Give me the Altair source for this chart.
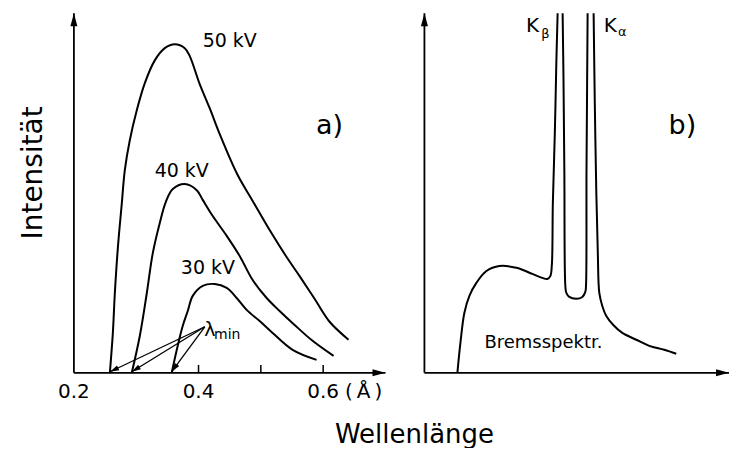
import math
import altair as alt
import pandas as pd

FONT = "DejaVu Sans"
INK = "black"

# ---------------- panel a) : wavelength in Å, intensity in arbitrary units (axis top = 100)
wl_50 = [0.2577, 0.2625, 0.2657, 0.2705, 0.2769, 0.2817, 0.2897, 0.3010, 0.3138, 0.3298, 0.3458,
         0.3619, 0.3779, 0.3859, 0.4019, 0.4179, 0.4340, 0.4628, 0.4869, 0.5141, 0.5413, 0.5622,
         0.5862, 0.6103, 0.6407]
int_50 = [0, 11.1, 22.2, 34.7, 47.2, 56.4, 64.7, 73.1, 80.6, 86.9, 90.3,
          91.4, 90.3, 88.1, 80.3, 73.6, 66.4, 55.0, 47.8, 39.7, 32.2, 26.9,
          20.6, 14.2, 9.2]

wl_40 = [0.2929, 0.3058, 0.3170, 0.3266, 0.3378, 0.3474, 0.3587, 0.3779, 0.3971, 0.4067, 0.4228,
         0.4452, 0.4660, 0.4869, 0.5093, 0.5301, 0.5542, 0.5830, 0.6167]
int_40 = [0, 10.3, 22.2, 33.3, 41.7, 47.5, 51.1, 52.5, 50.8, 48.1, 43.6,
          38.1, 32.5, 25.8, 20.8, 17.2, 13.3, 8.9, 4.7]

wl_30 = [0.3570, 0.3651, 0.3747, 0.3827, 0.3907, 0.4067, 0.4260, 0.4452, 0.4612, 0.4772, 0.4981,
         0.5189, 0.5510, 0.5894]
int_30 = [0, 6.4, 13.1, 17.2, 21.4, 24.2, 24.7, 23.6, 20.8, 17.5, 14.4, 11.1, 6.4, 3.6]

kv_names = ["50 kV", "40 kV", "30 kV"]
kv_label_wl = [0.450, 0.373, 0.415]
kv_label_int = [92.2, 56.1, 29.2]

lambda_min_wl = [0.258, 0.293, 0.357]      # short-wavelength limits of the three spectra
lambda_label = (0.410, 12.8)               # where the λmin arrows start

tick_values = [0.4, 0.5, 0.6]
tick_label_values = [0.2, 0.4, 0.6]
tick_labels = ["0.2", "0.4", "0.6"]

# ---------------- panel b) : arbitrary wavelength units
b_seg1_x = [0.1061, 0.1158, 0.1286, 0.1447, 0.1672, 0.1994, 0.2412, 0.2958, 0.3473, 0.3794,
            0.3955, 0.4051, 0.4100, 0.4132, 0.4196, 0.4244, 0.4286]
b_seg1_y = [0, 8.3, 16.7, 21.4, 25.0, 28.3, 29.7, 29.2, 27.5, 26.4,
            26.1, 26.9, 30.0, 47.2, 66.7, 86.1, 100]
b_seg2_x = [0.4447, 0.4476, 0.4502, 0.4534, 0.4566, 0.4662, 0.4887, 0.5080, 0.5177, 0.5199,
            0.5215, 0.5235, 0.5251]
b_seg2_y = [100, 80.6, 56.4, 24.2, 22.2, 21.1, 20.6, 21.1, 22.5, 24.2, 56.4, 80.6, 100]
b_seg3_x = [0.5444, 0.5482, 0.5531, 0.5579, 0.5627, 0.5723, 0.5852, 0.6077, 0.6367, 0.6817,
            0.7235, 0.7717, 0.8103]
b_seg3_y = [100, 75, 50, 33.3, 22.2, 18.6, 15.8, 13.3, 11.1, 9.2, 7.5, 6.4, 5.3]

# ---------------- geometry
WA, WB, H = 312, 305, 360
XA = [0.2, 0.7]
XB = [0.0, 0.98]
YD = [0, 100]

sxa = alt.Scale(domain=XA, nice=False, zero=False)
sxb = alt.Scale(domain=XB, nice=False, zero=False)
sy = alt.Scale(domain=YD, nice=False, zero=False)


def enc(sx, x="x", y="y", x2=None, y2=None):
    e = dict(x=alt.X(f"{x}:Q", scale=sx, axis=None), y=alt.Y(f"{y}:Q", scale=sy, axis=None))
    if x2:
        e["x2"] = alt.X2(f"{x2}:Q")
    if y2:
        e["y2"] = alt.Y2(f"{y2}:Q")
    return e


def tip_path(dx, dy, w):
    """Arrowhead outline with its tip at the anchor, pointing along screen direction (dx, dy)."""
    n = math.hypot(dx, dy)
    ux, uy = dx / n, dy / n
    px, py = -uy, ux
    bx, by = -ux, -uy
    pts = [(0, 0), (bx + px * w, by + py * w), (bx - px * w, by - py * w)]
    return "M" + "L".join(f"{a:.3f},{b:.3f}" for a, b in pts) + "Z"


def head_layer(df, sx, size):
    return alt.Chart(df).mark_point(filled=True, size=size, color=INK, opacity=1, strokeWidth=0).encode(
        **enc(sx), shape=alt.Shape("path:N", scale=None))


def axes_layers(sx, xd):
    ax = pd.DataFrame({"x": [xd[0], xd[0]], "x2": [xd[0], xd[1]], "y": [0, 0], "y2": [YD[1], 0]})
    rules = alt.Chart(ax).mark_rule(color=INK, strokeWidth=1.8).encode(**enc(sx, x2="x2", y2="y2"))
    heads = pd.DataFrame({"x": [xd[0], xd[1]], "y": [YD[1], 0],
                          "path": [tip_path(0, -1, 0.27), tip_path(1, 0, 0.27)]})
    return [rules, head_layer(heads, sx, 676)]


def curves_df(xs_list, ys_list, names):
    rows = []
    for xs, ys, n in zip(xs_list, ys_list, names):
        for i, (a, b) in enumerate(zip(xs, ys)):
            rows.append({"x": a, "y": b, "g": n, "i": i})
    return pd.DataFrame(rows)


def text_layer(df, sx, baseline="middle"):
    return alt.Chart(df).mark_text(font=FONT, color=INK, baseline=baseline, align="center").encode(
        **enc(sx), text="t:N", size=alt.Size("fs:Q", scale=None), angle=alt.Angle("ang:Q", scale=None))


# ---- panel a
cur_a = curves_df([wl_50, wl_40, wl_30], [int_50, int_40, int_30], kv_names)
lines_a = alt.Chart(cur_a).mark_line(color=INK, strokeWidth=2, interpolate="catmull-rom").encode(
    **enc(sxa), detail="g:N", order="i:Q")

ticks = alt.Chart(pd.DataFrame({"x": tick_values, "y": [0] * 3, "y2": [2.2] * 3})).mark_rule(
    color=INK, strokeWidth=1.5).encode(**enc(sxa, y2="y2"))

lx, ly = lambda_label
lam = pd.DataFrame({"x": [lx] * 3, "y": [ly] * 3, "x2": lambda_min_wl, "y2": [0.3] * 3})
lam_lines = alt.Chart(lam).mark_rule(color=INK, strokeWidth=1.3).encode(**enc(sxa, x2="x2", y2="y2"))
px_per_x = WA / (XA[1] - XA[0])
px_per_y = H / (YD[1] - YD[0])
lam_heads = pd.DataFrame({
    "x": lambda_min_wl, "y": [0.3] * 3,
    "path": [tip_path((x2 - lx) * px_per_x, (ly - 0.3) * px_per_y, 0.3) for x2 in lambda_min_wl],
})
lam_pts = head_layer(lam_heads, sxa, 324)

texts_a = pd.DataFrame({
    "t": kv_names + ["a)", "λ", "min", "Intensität", "(\u2009Å\u2009)"] + tick_labels,
    "x": kv_label_wl + [0.610, 0.418, 0.446, 0.136, 0.665] + tick_label_values,
    "y": kv_label_int + [68.6, 12.0, 10.6, 55.6, -5.3] + [-5.3] * 3,
    "fs": [19, 19, 19] + [27, 19, 14, 28, 20] + [20] * 3,
    "ang": [0] * 6 + [270, 0] + [0] * 3,
})
x_title = pd.DataFrame({"t": ["Wellenlänge"], "x": [0.7465], "y": [-19.4], "fs": [26], "ang": [0]})

panel_a = alt.layer(
    *axes_layers(sxa, XA), ticks, lines_a, lam_lines, lam_pts, text_layer(texts_a, sxa),
    text_layer(x_title, sxa, baseline="alphabetic")
).properties(width=WA, height=H)

# ---- panel b
cur_b = curves_df([b_seg1_x, b_seg2_x, b_seg3_x], [b_seg1_y, b_seg2_y, b_seg3_y], ["s1", "s2", "s3"])
lines_b = alt.Chart(cur_b).mark_line(color=INK, strokeWidth=2, interpolate="catmull-rom").encode(
    **enc(sxb), detail="g:N", order="i:Q")
texts_b = pd.DataFrame({
    "t": ["b)", "K", "β", "K", "α", "Bremsspektr."],
    "x": [0.830, 0.348, 0.389, 0.598, 0.637, 0.383],
    "y": [68.6, 96.5, 94.2, 96.5, 94.7, 8.3],
    "fs": [27, 20, 13, 20, 13, 18],
    "ang": [0] * 6,
})
panel_b = alt.layer(*axes_layers(sxb, XB), lines_b, text_layer(texts_b, sxb)).properties(width=WB, height=H)

chart = alt.hconcat(panel_a, panel_b, spacing=39, bounds="flush").properties(
    padding={"left": 12, "top": 1, "right": 0, "bottom": 0}, background="white"
).configure_view(stroke=None)

chart.save("out.html", embed_options={"renderer": "svg", "actions": False})
